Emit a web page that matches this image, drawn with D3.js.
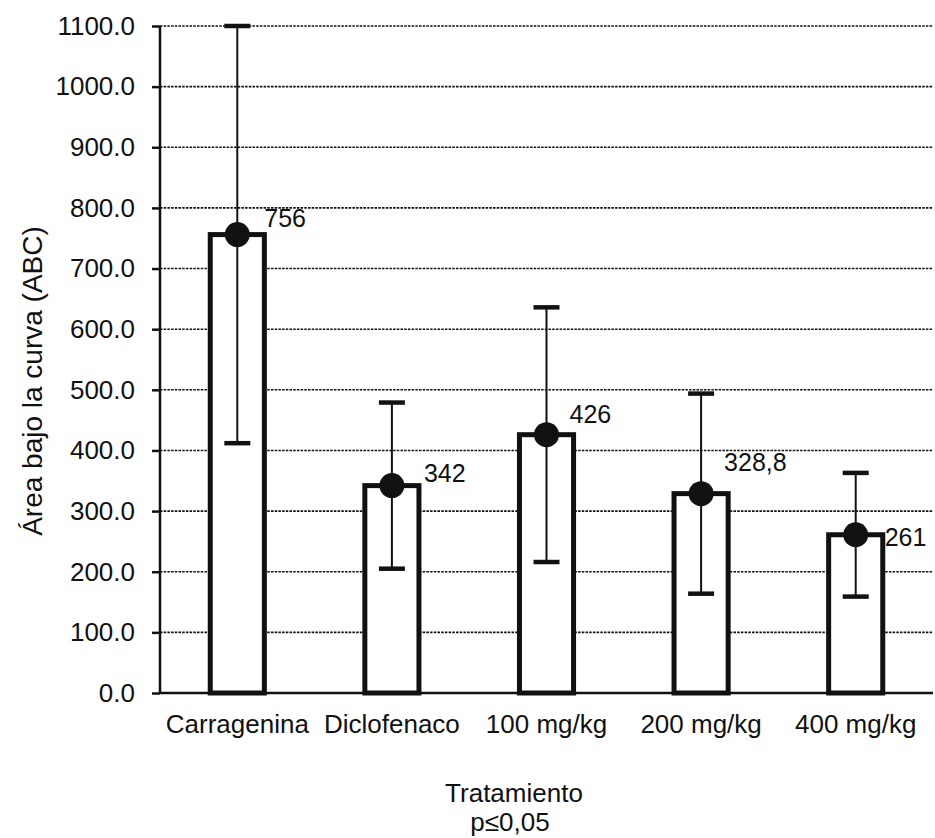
<!DOCTYPE html>
<html>
<head>
<meta charset="utf-8">
<script src="https://cdn.jsdelivr.net/npm/d3@7"></script>
<style>
  body { margin: 0; background: #fff; }
  text { font-family: "Liberation Sans", Arial, sans-serif; fill: #111; }
</style>
</head>
<body>
<svg></svg>
<script>
// data
let categories = ["Carragenina", "Diclofenaco", "100 mg/kg", "200 mg/kg", "400 mg/kg"];
let means = [756, 342, 426, 328.8, 261];
let sds = [344, 137, 210, 165, 102];
let valueLabels = ["756", "342", "426", "328,8", "261"];
let yTicks = [0, 100, 200, 300, 400, 500, 600, 700, 800, 900, 1000, 1100];

// hand placed nudges for the value labels (dx, dy from the point)
let labelNudge = [[27, -8], [32, -4], [23, -12], [23, -23], [29, 11]];

function drawChart() {
    let margin = {top: 26, right: 2, bottom: 145, left: 160};
    let W = 935, H = 838;
    let width = W - margin.left - margin.right;
    let height = H - margin.top - margin.bottom;

    let svg = d3.select("svg")
        .attr("width", W)
        .attr("height", H)
        .append("g")
        .attr("transform", "translate(" + margin.left + "," + margin.top + ")");

    let x = d3.scaleBand()
        .domain(categories)
        .range([0, width])
        .paddingInner(0.65)
        .paddingOuter(0.325);

    let y = d3.scaleLinear()
        .domain([0, 1100])
        .range([height, 0]);

    // dashed gridlines
    svg.append("g").selectAll("line")
        .data(yTicks.filter(d => d > 0))
        .join("line")
        .attr("x1", 0)
        .attr("x2", width)
        .attr("y1", d => y(d))
        .attr("y2", d => y(d))
        .style("stroke", "#111")
        .style("stroke-width", 1.6)
        .style("stroke-dasharray", "2.5,1.2");

    // y axis
    let yAxis = svg.append("g")
        .call(d3.axisLeft(y).tickValues(yTicks).tickFormat(d3.format(".1f")).tickSize(8).tickPadding(17));
    yAxis.select(".domain").style("stroke", "#111").style("stroke-width", 2.5).attr("d", "M0," + height + "V0");
    yAxis.selectAll(".tick line").style("stroke", "#111").style("stroke-width", 2.5);
    yAxis.selectAll(".tick text")
        .style("font-size", "26px")
        .style("font-family", "'Liberation Sans', Arial, sans-serif")
        .attr("fill", "#111");

    // baseline
    svg.append("line")
        .attr("x1", 0)
        .attr("x2", width)
        .attr("y1", y(0))
        .attr("y2", y(0))
        .style("stroke", "#111")
        .style("stroke-width", 2.5);

    let data = categories.map((c, i) => ({cat: c, mean: means[i], sd: sds[i], label: valueLabels[i], nudge: labelNudge[i]}));

    // bars
    svg.append("g").selectAll("rect")
        .data(data)
        .join("rect")
        .attr("x", d => x(d.cat))
        .attr("y", d => y(d.mean))
        .attr("width", x.bandwidth())
        .attr("height", d => y(0) - y(d.mean))
        .style("fill", "#fff")
        .style("stroke", "#111")
        .style("stroke-width", 5);

    let cx = d => x(d.cat) + x.bandwidth() / 2;
    let capW = 13;

    // error bars
    let err = svg.append("g");
    err.selectAll("line.stem")
        .data(data)
        .join("line")
        .attr("class", "stem")
        .attr("x1", cx)
        .attr("x2", cx)
        .attr("y1", d => y(d.mean + d.sd))
        .attr("y2", d => y(d.mean - d.sd))
        .style("stroke", "#111")
        .style("stroke-width", 2);
    err.selectAll("line.capTop")
        .data(data)
        .join("line")
        .attr("class", "capTop")
        .attr("x1", d => cx(d) - capW)
        .attr("x2", d => cx(d) + capW)
        .attr("y1", d => y(d.mean + d.sd))
        .attr("y2", d => y(d.mean + d.sd))
        .style("stroke", "#111")
        .style("stroke-width", 4.5);
    err.selectAll("line.capBot")
        .data(data)
        .join("line")
        .attr("class", "capBot")
        .attr("x1", d => cx(d) - capW)
        .attr("x2", d => cx(d) + capW)
        .attr("y1", d => y(d.mean - d.sd))
        .attr("y2", d => y(d.mean - d.sd))
        .style("stroke", "#111")
        .style("stroke-width", 4.5);

    // points
    svg.append("g").selectAll("circle")
        .data(data)
        .join("circle")
        .attr("cx", cx)
        .attr("cy", d => y(d.mean))
        .attr("r", 12.5)
        .style("fill", "#111");

    // value labels
    svg.append("g").selectAll("text")
        .data(data)
        .join("text")
        .attr("x", d => cx(d) + d.nudge[0])
        .attr("y", d => y(d.mean) + d.nudge[1])
        .attr("font-size", "25px")
        .text(d => d.label);

    // category labels
    svg.append("g").selectAll("text")
        .data(categories)
        .join("text")
        .attr("x", d => x(d) + x.bandwidth() / 2)
        .attr("y", height + 40)
        .attr("text-anchor", "middle")
        .attr("font-size", "26px")
        .text(d => d);

    // axis titles
    svg.append("text")
        .attr("x", 354)
        .attr("y", height + 109)
        .attr("text-anchor", "middle")
        .attr("font-size", "26px")
        .text("Tratamiento");

    svg.append("text")
        .attr("x", 350)
        .attr("y", height + 138)
        .attr("text-anchor", "middle")
        .attr("font-size", "26px")
        .text("p≤0,05");

    svg.append("text")
        .attr("transform", "translate(" + (42 - margin.left) + "," + (381 - margin.top) + ") rotate(-90)")
        .attr("text-anchor", "middle")
        .attr("font-size", "28px")
        .text("Área bajo la curva (ABC)");
}
drawChart();
</script>
</body>
</html>
